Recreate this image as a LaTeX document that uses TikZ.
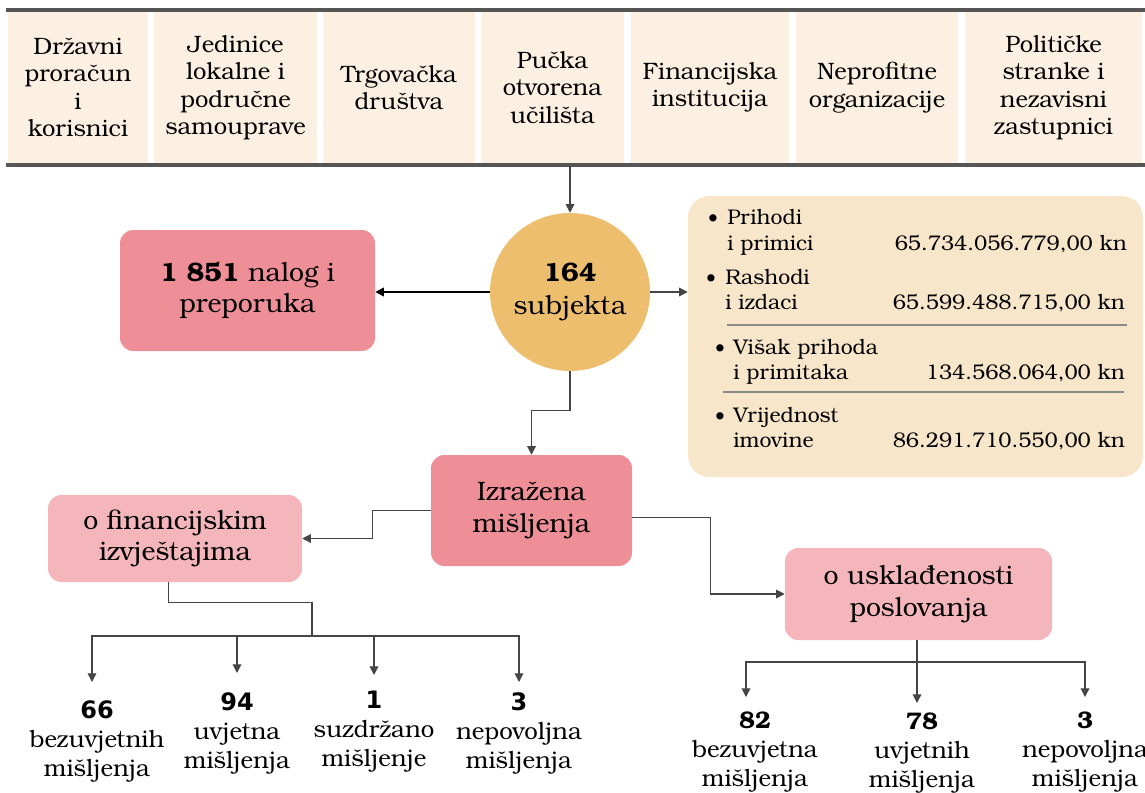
\documentclass[tikz,border=0pt]{standalone}
\usepackage{fontspec}
\setmainfont{TeX Gyre Bonum}
\newfontfamily\numsans{DejaVu Sans}
\usetikzlibrary{arrows.meta,shapes.geometric}

\definecolor{cellbg}{HTML}{FBF0E2}
\definecolor{bandline}{HTML}{555555}
\definecolor{gold}{HTML}{EDBE6E}
\definecolor{salmon}{HTML}{EE8F97}
\definecolor{rosy}{HTML}{F4B6BB}
\definecolor{sand}{HTML}{F7E6CA}
\definecolor{rulegray}{HTML}{8A8A8A}
\definecolor{arrowgray}{HTML}{454545}

\tikzset{
  cellbox/.style={fill=cellbg, inner sep=0pt, align=center, minimum height=113.25pt,
    font=\fontsize{17.8}{20.6}\selectfont},
  bigbox/.style={rounded corners=10pt, inner sep=0pt, align=center,
    font=\fontsize{20}{23.5}\selectfont},
  btxt/.style={inner sep=0pt, text height=1.5ex, text depth=.25ex,
    font=\fontsize{15.9}{18}\selectfont},
  lbl/.style={inner sep=0pt, align=center, font=\fontsize{18}{21.75}\selectfont},
  conn/.style={draw=arrowgray, line width=0.9pt, -{Triangle[length=6.5pt,width=6.5pt]}},
  strongconn/.style={draw=black, line width=1.3pt, -{Triangle[length=6.5pt,width=6.5pt]}},
  rule/.style={draw=rulegray, line width=2pt},
  band/.style={draw=bandline, line width=2.5pt}
}

\begin{document}
\begin{tikzpicture}[x=0.75pt, y=-0.75pt]
\useasboundingbox (0,0) rectangle (1145,792);

% header row of entity types
\node[cellbox, minimum width=105pt]    (c1) at (78,87.5)    {Državni\\proračun\\i\\korisnici};
\node[cellbox, minimum width=122.25pt] (c2) at (235.5,87.5) {Jedinice\\lokalne i\\područne\\samouprave};
\node[cellbox, minimum width=114pt]    (c3) at (399,87.5)   {Trgovačka\\društva};
\node[cellbox, minimum width=107.25pt] (c4) at (552.5,87.5) {Pučka\\otvorena\\učilišta};
\node[cellbox, minimum width=118.5pt]  (c5) at (710,87.5)   {Financijska\\institucija};
\node[cellbox, minimum width=121.5pt]  (c6) at (877,87.5)   {Neprofitne\\organizacije};
\node[cellbox, minimum width=132.75pt] (c7) at (1053.5,87.5){Političke\\stranke i\\nezavisni\\zastupnici};
\draw[band] (6,10) -- (1145,10);
\draw[band] (6,165) -- (1145,165);
\coordinate (bandbottom) at (570,166);

% central figures
\node[ellipse, fill=gold, minimum width=120pt, minimum height=118.5pt, inner sep=0pt,
      align=center, font=\fontsize{20}{25}\selectfont] (circ) at (570,292)
      {\textbf{164}\\subjekta};
\node[bigbox, fill=salmon, minimum width=191.25pt, minimum height=90.75pt] (nal) at (247.5,290.5)
      {\textbf{1 851} nalog i\\preporuka};
\node[rounded corners=16pt, fill=sand, minimum width=341.25pt, minimum height=210.75pt] (fin0) at (915.5,336.5) {};

% financial summary
\node[btxt] (b1) at (713,222) {\textbullet};
\node[btxt, anchor=west] (t1a) at (727,220) {Prihodi};
\node[btxt, anchor=west] (t1b) at (727,246) {i primici};
\node[btxt, anchor=east] (v1) at (1127,246) {65.734.056.779,00 kn};
\node[btxt] (b2) at (711,282) {\textbullet};
\node[btxt, anchor=west] (t2a) at (725,280) {Rashodi};
\node[btxt, anchor=west] (t2b) at (725,305) {i izdaci};
\node[btxt, anchor=east] (v2) at (1125,305) {65.599.488.715,00 kn};
\draw[rule] (727,325) -- (1127,325);
\node[btxt] (b3) at (720,352) {\textbullet};
\node[btxt, anchor=west] (t3a) at (733,350) {Višak prihoda};
\node[btxt, anchor=west] (t3b) at (733,375) {i primitaka};
\node[btxt, anchor=east] (v3) at (1125,375) {134.568.064,00 kn};
\draw[rule] (723,392) -- (1124,392);
\node[btxt] (b4) at (720,420) {\textbullet};
\node[btxt, anchor=west] (t4a) at (733,418) {Vrijednost};
\node[btxt, anchor=west] (t4b) at (733,443) {imovine};
\node[btxt, anchor=east] (v4) at (1125,443) {86.291.710.550,00 kn};

% opinions
\node[bigbox, fill=salmon, minimum width=150.75pt, minimum height=83.25pt] (izr) at (531.5,510.5)
      {Izražena\\mišljenja};
\node[bigbox, fill=rosy, minimum width=190.5pt, minimum height=65.25pt] (fin) at (175,538.5)
      {o financijskim\\izvještajima};
\node[bigbox, fill=rosy, minimum width=200.25pt, minimum height=69pt] (usk) at (918.5,594)
      {o usklađenosti\\poslovanja};

% counts
\node[lbl] (n66) at (97,741)   {{\numsans\bfseries 66}\\bezuvjetnih\\mišljenja};
\node[lbl] (n94) at (237,733)  {{\numsans\bfseries 94}\\uvjetna\\mišljenja};
\node[lbl] (n1)  at (374,732)  {{\numsans\bfseries 1}\\suzdržano\\mišljenje};
\node[lbl] (n3)  at (519,733)  {{\numsans\bfseries 3}\\nepovoljna\\mišljenja};
\node[lbl] (n82) at (755,752)  {\textbf{82}\\bezuvjetna\\mišljenja};
\node[lbl] (n78) at (922,753)  {\textbf{78}\\uvjetnih\\mišljenja};
\node[lbl] (n3b) at (1085,752) {\textbf{3}\\nepovoljna\\mišljenja};

\coordinate (fj) at (312,636);
\coordinate (a66) at (92,682);
\coordinate (a94) at (237,673);
\coordinate (a1)  at (374,675);
\coordinate (a3)  at (519,682);
\coordinate (uj)  at (917,662);
\coordinate (a82) at (746,697);
\coordinate (a78) at (917,703);
\coordinate (a3b) at (1085,697);

% connectors
\draw[conn] (bandbottom) -- (circ.north);
\draw[strongconn] (circ.west) -- (circ.west -| nal.east);
\draw[conn] (circ.east) -- (circ.east -| fin0.west);
\draw[conn] (circ.south) -- ++(0,39) -| (izr.north);
\draw[conn] (izr.west) -- ++(-58,0) |- (fin.east);
\draw[conn] ([yshift=-5pt]izr.east) -- ++(78,0) |- (usk.west);
\draw[draw=arrowgray, line width=0.9pt] ([xshift=-5pt]fin.south) -- ++(0,20) -| (fj);
\draw[conn] (fj) -| (a66);
\draw[conn] (fj) -| (a94);
\draw[conn] (fj) -- (a1 |- fj) -- (a1);
\draw[conn] (fj) -| (a3);
\draw[conn] (usk.south -| a78) -- (a78);
\draw[conn] (uj) -| (a82);
\draw[conn] (uj) -| (a3b);
\end{tikzpicture}
\end{document}
